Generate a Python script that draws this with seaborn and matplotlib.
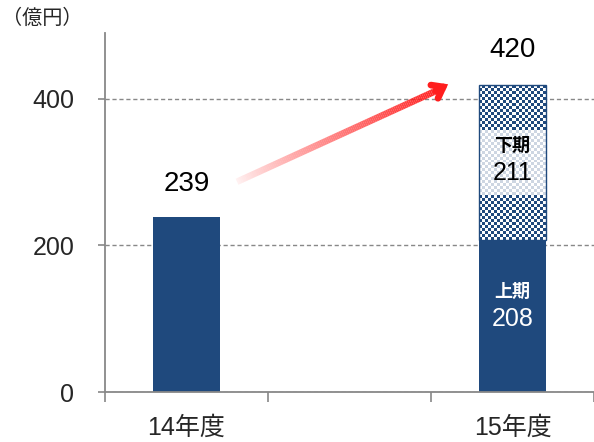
import numpy as np
import pandas as pd
import matplotlib
matplotlib.use("Agg")
import matplotlib.pyplot as plt
import seaborn as sns
from matplotlib.collections import LineCollection
from matplotlib.colors import ListedColormap, to_rgba
from matplotlib.patches import Rectangle

sns.set_theme(style="white")
plt.rcParams["font.family"] = ["Liberation Sans", "Noto Sans CJK JP", "DejaVu Sans"]

# --- data -------------------------------------------------------------
slots = ["14年度", " ", "15年度"]          # x slots (middle one left empty)
bar_years = ["14年度", "15年度"]
first_half = [239, 208]                    # 14年度 is the full-year figure
second_half = [211]                        # 15年度 下期
totals = [239, 420]
half_labels = ["上期", "下期"]
y_ticks = [0, 200, 400]
unit_label = "（億円）"

NAVY = "#1F497D"
GRAY = "#888888"
RED = "#FF1E1E"
BAR_W = 0.41

fig = plt.figure(figsize=(5.94, 4.42), dpi=100)
ax = fig.add_axes([105 / 594, 50 / 442, 489 / 594, 359 / 442])

df = pd.DataFrame({"year": bar_years, "value": first_half})
sns.barplot(data=df, x="year", y="value", order=slots, color=NAVY,
            saturation=1, width=BAR_W, linewidth=0, ax=ax, zorder=2)

ax.set_xlim(-0.5, 2.5)
ax.set_ylim(0, 490)

# stacked second-half bar with a checkerboard fill
x15 = slots.index("15年度")
upper = ax.bar(x15, second_half[0], bottom=first_half[1], width=BAR_W,
               facecolor="none", edgecolor=NAVY, linewidth=1.0, zorder=4)[0]
bx0, by0 = upper.get_x(), upper.get_y()
bw, bh = upper.get_width(), upper.get_height()
fig.canvas.draw()
p0 = ax.transData.transform((bx0, by0))
p1 = ax.transData.transform((bx0 + bw, by0 + bh))
ncols = max(1, int(round(abs(p1[0] - p0[0]) / 3)))
nrows = max(1, int(round(abs(p1[1] - p0[1]) / 3)))
ii, jj = np.indices((nrows, ncols))
checker = (ii + jj) % 2
img = ax.imshow(checker, extent=[bx0, bx0 + bw, by0, by0 + bh], aspect="auto",
                interpolation="nearest", cmap=ListedColormap(["white", NAVY]),
                zorder=3)
img.set_clip_path(upper)
mid = by0 + bh / 2
ax.add_patch(Rectangle((bx0, mid - 44), bw, 88, facecolor="white",
                       alpha=0.78, linewidth=0, zorder=3.5))
ax.set_xlim(-0.5, 2.5)
ax.set_ylim(0, 490)

# value labels
x14 = slots.index("14年度")
ax.annotate(f"{totals[0]}", (x14, first_half[0]), xytext=(0, 14),
            textcoords="offset points", ha="center", va="bottom", fontsize=20,
            color="black", zorder=5)
ax.annotate(f"{totals[1]}", (x15, first_half[1] + second_half[0]), xytext=(0, 16),
            textcoords="offset points", ha="center", va="bottom", fontsize=20,
            color="black", zorder=5)

lower_mid = first_half[1] / 2
ax.text(x15, lower_mid + 32, half_labels[0], ha="center", va="center",
        fontsize=13, fontweight="bold", color="white", zorder=5)
ax.text(x15, lower_mid - 5, f"{first_half[1]}", ha="center", va="center",
        fontsize=18, color="white", zorder=5)
ax.text(x15, mid + 22, half_labels[1], ha="center", va="center",
        fontsize=13, fontweight="bold", color="black", zorder=5)
ax.text(x15, mid - 14, f"{second_half[0]}", ha="center", va="center",
        fontsize=18, color="black", zorder=5)

# growth arrow with a fading tail
start = np.array([0.31, 287.0])
end = np.array([1.58, 416.0])
t = np.linspace(0, 1, 120)
pts = start + (end - start) * t[:, None]
segs = np.stack([pts[:-1], pts[1:]], axis=1)
base = np.array(to_rgba(RED))
cols = np.tile(base, (len(segs), 1))
cols[:, 3] = np.linspace(0.03, 1.0, len(segs)) ** 0.8
ax.add_collection(LineCollection(segs, colors=cols, linewidths=4.8,
                                 capstyle="butt", zorder=6))
ax.annotate("", xy=(1.605, 420), xytext=(end[0] - 0.05, end[1] - 5),
            arrowprops=dict(arrowstyle="->,head_length=0.6,head_width=0.45",
                            color=RED, lw=4.8, shrinkA=0, shrinkB=0,
                            joinstyle="miter", capstyle="round"),
            zorder=7)

# grid, spines, ticks
ax.set_axisbelow(True)
ax.grid(axis="y", linestyle=(0, (3, 2)), color=GRAY, linewidth=1.0)
ax.grid(axis="x", visible=False)
for side in ("top", "right"):
    ax.spines[side].set_visible(False)
for side in ("left", "bottom"):
    ax.spines[side].set_color(GRAY)
    ax.spines[side].set_linewidth(1.3)

ax.set_yticks(y_ticks)
ax.set_yticklabels([str(v) for v in y_ticks], fontsize=18)
ax.tick_params(axis="y", which="major", direction="out", length=5, width=1.2,
               color=GRAY, pad=17, left=True)

ax.set_xticks(np.arange(len(slots) + 1) - 0.5)
ax.set_xticklabels([])
ax.set_xticks(np.arange(len(slots)), minor=True)
ax.set_xticklabels(slots, minor=True, fontsize=18)
ax.tick_params(axis="x", which="major", direction="out", length=7, width=1.2,
               color=GRAY, bottom=True)
ax.tick_params(axis="x", which="minor", length=0, pad=17, bottom=True)
ax.set_xlabel("")
ax.set_ylabel("")

fig.text(0.003, 0.958, unit_label, fontsize=14.5, ha="left", va="center",
         family=["Noto Sans CJK JP", "DejaVu Sans"])

fig.savefig("out.png", dpi=100)
